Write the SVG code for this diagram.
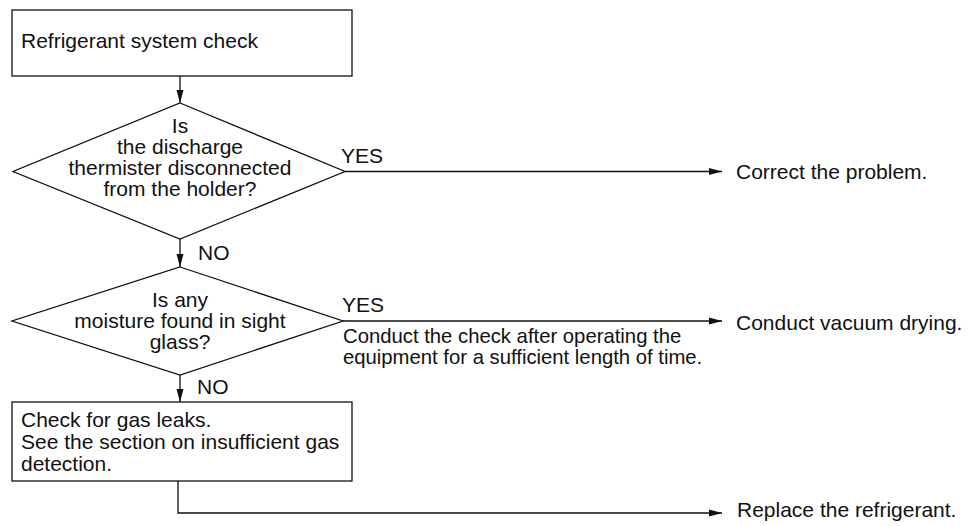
<svg xmlns="http://www.w3.org/2000/svg" width="973" height="526" viewBox="0 0 973 526">
<defs>
<marker id="ah" markerUnits="userSpaceOnUse" markerWidth="14" markerHeight="10" refX="13" refY="4" orient="auto">
<path d="M0,0.5 L13,4 L0,7.5 Z" fill="#111"/>
</marker>
<style>
text{font-family:"Liberation Sans",Arial,Helvetica,sans-serif;font-size:21px;fill:#111}
.c{text-anchor:middle}
.s{font-size:20.3px}
.n{fill:#fff;stroke:#111;stroke-width:1.3}
.e{fill:none;stroke:#111;stroke-width:1.3;marker-end:url(#ah)}
</style>
</defs>
<rect width="973" height="526" fill="#fff"/>
<g id="connectors">
<path class="e" d="M180,76 V103"/>
<path class="e" d="M345,171.5 H722"/>
<path class="e" d="M180,239 V267"/>
<path class="e" d="M343,321 H722"/>
<path class="e" d="M180,375 V402"/>
<path class="e" d="M178,481 V513 H722"/>
<text x="341" y="163">YES</text>
<text x="198" y="260">NO</text>
<text x="342" y="312">YES</text>
<text class="s" x="343" y="343">Conduct the check after operating the</text>
<text class="s" x="343" y="363.5">equipment for a sufficient length of time.</text>
<text x="197" y="394">NO</text>
</g>
<g id="start">
<rect class="n" x="12" y="10" width="340" height="66"/>
<text x="21" y="48">Refrigerant system check</text>
</g>
<g id="q1">
<polygon class="n" points="180,103 345,171.5 180,239 13,171.5"/>
<text class="c" x="180" y="133">Is</text>
<text class="c" x="180" y="154">the discharge</text>
<text class="c" x="180" y="175">thermister disconnected</text>
<text class="c" x="180" y="196">from the holder?</text>
</g>
<g id="q2">
<polygon class="n" points="180,267 343,321 180,375 12,321"/>
<text class="c" x="180" y="306.5">Is any</text>
<text class="c" x="180" y="327.5">moisture found in sight</text>
<text class="c" x="180" y="348.5">glass?</text>
</g>
<g id="leak">
<rect class="n" x="12" y="402" width="340" height="79"/>
<text x="21" y="427">Check for gas leaks.</text>
<text x="21" y="449">See the section on insufficient gas</text>
<text x="21" y="470.5">detection.</text>
</g>
<g id="r1"><text x="736" y="179">Correct the problem.</text></g>
<g id="r2"><text x="736" y="330">Conduct vacuum drying.</text></g>
<g id="r3"><text x="737" y="517">Replace the refrigerant.</text></g>
</svg>
